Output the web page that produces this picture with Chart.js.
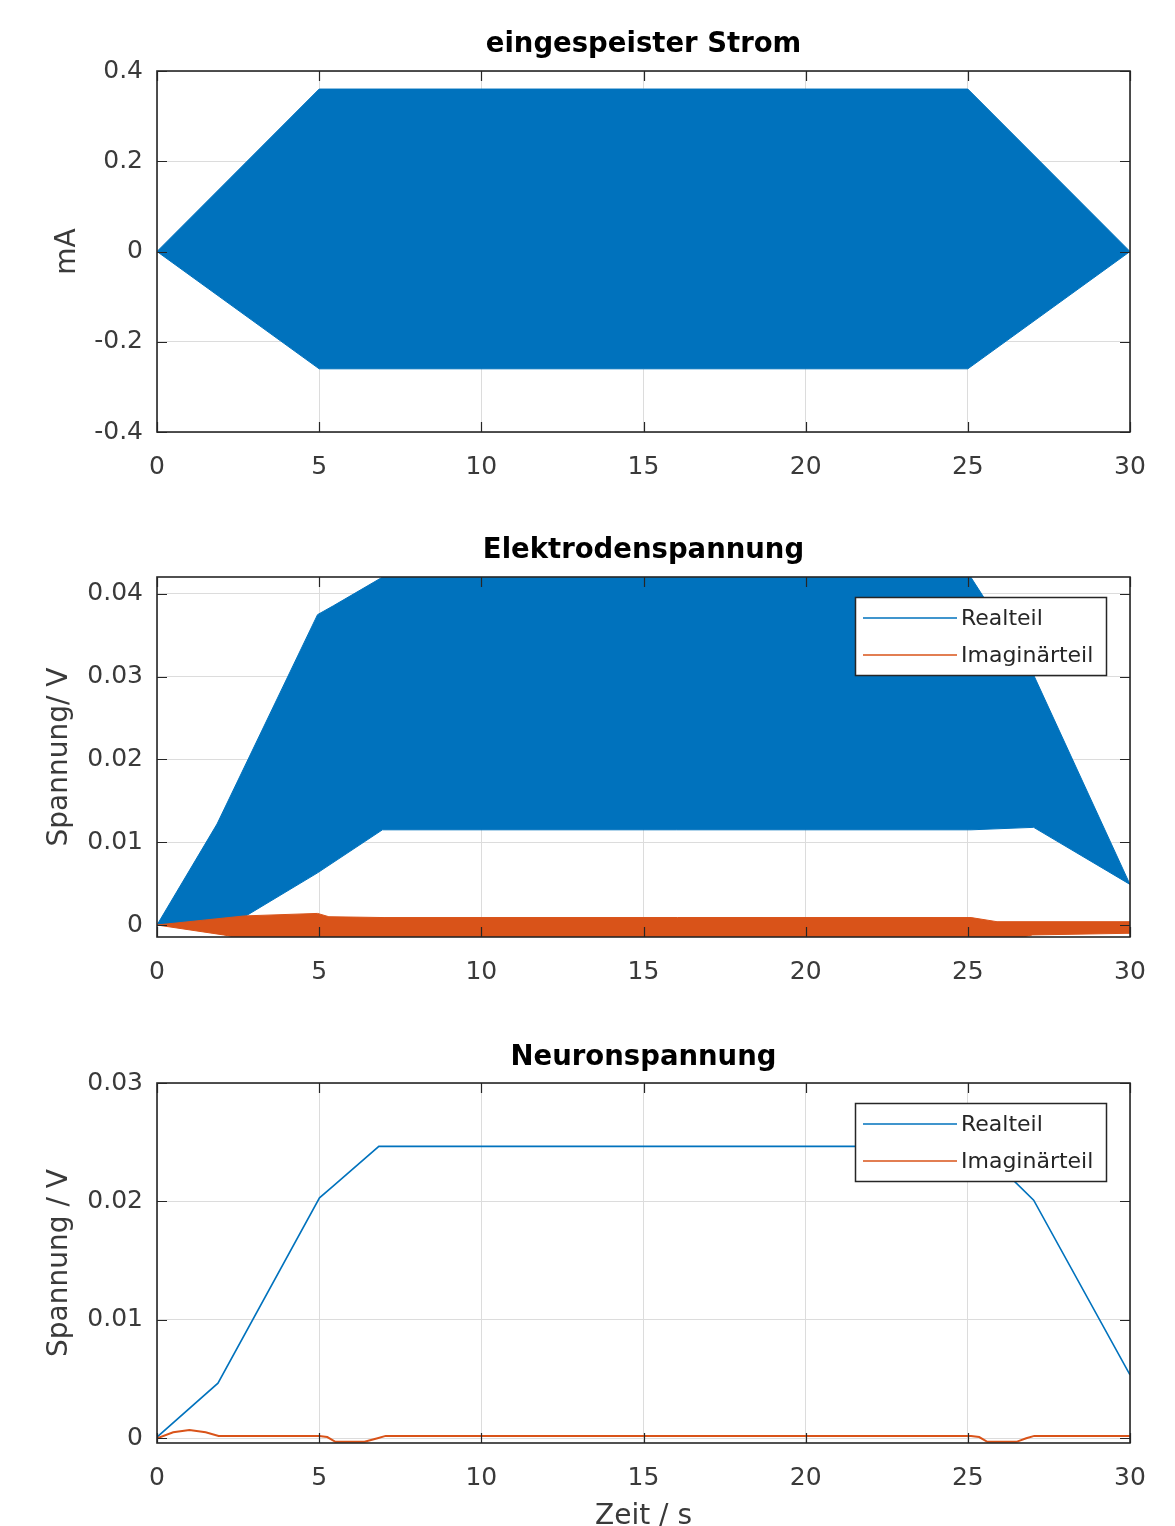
<!DOCTYPE html>
<html><head><meta charset="utf-8">
<script src="https://cdn.jsdelivr.net/npm/chart.js@4.4.1/dist/chart.umd.min.js"></script>
<style>
html,body{margin:0;padding:0;background:#fff;overflow:hidden;width:1175px;height:1526px;}
canvas{position:absolute;left:0;}
</style></head><body>
<canvas id="c1" width="1175" height="500" style="top:0px"></canvas>
<canvas id="c2" width="1175" height="505" style="top:500px"></canvas>
<canvas id="c3" width="1175" height="540" style="top:1005px"></canvas>
<script>
// ---------- shared ----------
const timeTicks = [0, 5, 10, 15, 20, 25, 30];
const timeTickLabels = ['0', '5', '10', '15', '20', '25', '30'];
const seriesNames = ['Realteil', 'Imaginärteil'];
const xAxisTitle = 'Zeit / s';

// ---------- plot 1: eingespeister Strom ----------
const stromTitle = 'eingespeister Strom';
const stromYTitle = 'mA';
const stromYTicks = [-0.4, -0.2, 0, 0.2, 0.4];
const stromYTickLabels = ['-0.4', '-0.2', '0', '0.2', '0.4'];
const stromT = [0, 5, 25, 30];
const stromUpper = [0, 0.36, 0.36, 0];
const stromLower = [0, -0.26, -0.26, 0];

// ---------- plot 2: Elektrodenspannung ----------
const elekTitle = 'Elektrodenspannung';
const elekYTitle = 'Spannung/ V';
const elekYTicks = [0, 0.01, 0.02, 0.03, 0.04];
const elekYTickLabels = ['0', '0.01', '0.02', '0.03', '0.04'];
const elekRealUpperT = [0, 1.85, 4.95, 5.45, 7.2, 25, 27.03, 30];
const elekRealUpperV = [0, 0.0122, 0.0375, 0.0386, 0.0426, 0.0426, 0.0302, 0.0049];
const elekRealLowerT = [0, 2.7, 4.95, 6.95, 25.1, 27.03, 30];
const elekRealLowerV = [0, 0.001, 0.0063, 0.0115, 0.0115, 0.0118, 0.0049];
const elekImagUpperT = [0, 2.7, 4.95, 5.3, 7, 25.1, 25.9, 30];
const elekImagUpperV = [0, 0.0011, 0.0014, 0.0010, 0.0009, 0.0009, 0.0004, 0.0004];
const elekImagLowerT = [0, 2.05, 2.6, 26.5, 27, 30];
const elekImagLowerV = [0, -0.0012, -0.0016, -0.0016, -0.0012, -0.001];

// ---------- plot 3: Neuronspannung ----------
const neuTitle = 'Neuronspannung';
const neuYTitle = 'Spannung / V';
const neuYTicks = [0, 0.01, 0.02, 0.03];
const neuYTickLabels = ['0', '0.01', '0.02', '0.03'];
const neuRealT = [0, 1.88, 5.01, 5.43, 6.84, 25.16, 26.4, 27.03, 30];
const neuRealV = [0.0001, 0.00465, 0.0203, 0.0213, 0.02465, 0.02465, 0.0218, 0.0201, 0.00535];
const neuImagT = [0, 0.5, 1, 1.5, 1.9, 5, 5.25, 5.5, 6.4, 6.8, 7.05, 25.1, 25.35, 25.6, 26.5, 26.8, 27.05, 30];
const neuImagV = [0, 0.0005, 0.0007, 0.0005, 0.0002, 0.0002, 0.0001, -0.0003, -0.0003, 0, 0.0002, 0.0002, 0.0001, -0.0003, -0.0003, 0, 0.0002, 0.0002];

// ---------- styling ----------
const BLUE = '#0072BD';
const ORANGE = '#D95319';
const TXT = '#3a3a3a';
const AXIS = '#262626';
const GRID = '#dcdcdc';
const FONT = 'DejaVu Sans';

const pts = (t, v) => t.map((x, i) => ({x: x, y: v[i]}));

const framePlugin = {
  id: 'frame',
  afterDatasetsDraw(chart) {
    const {ctx, chartArea: a, scales: {x, y}} = chart;
    ctx.save();
    ctx.strokeStyle = AXIS;
    ctx.lineWidth = 1.2;
    const L = 10;
    ctx.beginPath();
    x.ticks.forEach(t => {
      const p = Math.round(x.getPixelForValue(t.value)) + 0.5;
      ctx.moveTo(p, a.bottom); ctx.lineTo(p, a.bottom - L);
      ctx.moveTo(p, a.top); ctx.lineTo(p, a.top + L);
    });
    y.ticks.forEach(t => {
      const p = Math.round(y.getPixelForValue(t.value)) + 0.5;
      ctx.moveTo(a.left, p); ctx.lineTo(a.left + L, p);
      ctx.moveTo(a.right, p); ctx.lineTo(a.right - L, p);
    });
    ctx.stroke();
    ctx.lineWidth = 1.6;
    ctx.strokeRect(a.left, a.top, a.right - a.left, a.bottom - a.top);
    ctx.restore();
  }
};

const boxLegendPlugin = {
  id: 'boxLegend',
  afterDraw(chart, args, opts) {
    if (!opts || !opts.show) return;
    const {ctx, chartArea: a} = chart;
    const items = chart.data.datasets.filter(d => d.inLegend);
    const w = 251, h = 78;
    const x0 = a.right - 24 - w, y0 = a.top + 20;
    ctx.save();
    ctx.fillStyle = '#fff';
    ctx.fillRect(x0, y0, w, h);
    ctx.strokeStyle = AXIS;
    ctx.lineWidth = 1.5;
    ctx.strokeRect(x0 + 0.5, y0 + 0.5, w, h);
    items.forEach((d, i) => {
      const yy = y0 + 21 + i * 37;
      ctx.strokeStyle = d.borderColor;
      ctx.lineWidth = 1.6;
      ctx.beginPath();
      ctx.moveTo(x0 + 8, yy); ctx.lineTo(x0 + 102, yy);
      ctx.stroke();
      ctx.fillStyle = AXIS;
      ctx.font = '22px "' + FONT + '"';
      ctx.textBaseline = 'middle';
      ctx.textAlign = 'left';
      ctx.fillText(d.label, x0 + 106, yy + 1);
    });
    ctx.restore();
  }
};

function makeChart(id, c) {
  return new Chart(document.getElementById(id), {
    type: 'line',
    data: {datasets: c.datasets},
    plugins: [framePlugin, boxLegendPlugin],
    options: {
      responsive: false,
      animation: false,
      devicePixelRatio: 1,
      layout: {padding: {left: 0, right: 45, top: 0, bottom: 0}},
      elements: {point: {radius: 0}, line: {tension: 0}},
      plugins: {
        legend: {display: false},
        tooltip: {enabled: false},
        boxLegend: {show: !!c.legend},
        title: {
          display: true, text: c.title, fullSize: false, color: '#000',
          font: {family: FONT, size: 27.5, weight: 'bold', lineHeight: 1.2},
          padding: {top: c.titlePad[0], bottom: c.titlePad[1]}
        }
      },
      scales: {
        x: {
          type: 'linear', min: 0, max: 30,
          afterBuildTicks: s => { s.ticks = timeTicks.map(v => ({value: v})); },
          afterFit: s => { s.height = c.xHeight; },
          ticks: {
            callback: (v, i) => timeTickLabels[i],
            font: {family: FONT, size: 25}, color: TXT, padding: 20,
            maxRotation: 0, autoSkip: false
          },
          grid: {color: GRID, lineWidth: 1, drawTicks: false},
          border: {display: false},
          title: c.xTitle ? {
            display: true, text: c.xTitle, color: TXT,
            font: {family: FONT, size: 28, lineHeight: 1.2},
            padding: {top: 0, bottom: 11.5}
          } : {display: false}
        },
        y: {
          type: 'linear', min: c.yMin, max: c.yMax,
          afterBuildTicks: s => { s.ticks = c.yTicks.map(v => ({value: v})); },
          afterFit: s => { s.width = 157; },
          ticks: {
            callback: (v, i) => c.yTickLabels[i],
            font: {family: FONT, size: 25}, color: TXT, padding: 14,
            autoSkip: false
          },
          grid: {color: GRID, lineWidth: 1, drawTicks: false},
          border: {display: false},
          title: {
            display: true, text: c.yTitle, color: TXT,
            font: {family: FONT, size: 28, lineHeight: 1.2},
            padding: {top: c.yTitlePad, bottom: 0}
          }
        }
      }
    }
  });
}

makeChart('c1', {
  title: stromTitle, titlePad: [28.5, 9.5],
  yTitle: stromYTitle, yTitlePad: 51,
  yMin: -0.4, yMax: 0.4, yTicks: stromYTicks, yTickLabels: stromYTickLabels,
  xHeight: 68,
  datasets: [
    {label: 'upper', data: pts(stromT, stromUpper), borderColor: BLUE, backgroundColor: BLUE, borderWidth: 1, fill: '+1'},
    {label: 'lower', data: pts(stromT, stromLower), borderColor: BLUE, backgroundColor: BLUE, borderWidth: 1, fill: false}
  ]
});

makeChart('c2', {
  title: elekTitle, titlePad: [34.5, 9.5],
  yTitle: elekYTitle, yTitlePad: 43,
  yMin: -0.00145, yMax: 0.04205, yTicks: elekYTicks, yTickLabels: elekYTickLabels,
  xHeight: 68, legend: true,
  datasets: [
    {label: seriesNames[0], inLegend: true, order: 2, data: pts(elekRealUpperT, elekRealUpperV), borderColor: BLUE, backgroundColor: BLUE, borderWidth: 1, fill: '+1'},
    {label: seriesNames[0] + ' min', order: 2, data: pts(elekRealLowerT, elekRealLowerV), borderColor: BLUE, backgroundColor: BLUE, borderWidth: 1, fill: false},
    {label: seriesNames[1], inLegend: true, order: 1, data: pts(elekImagUpperT, elekImagUpperV), borderColor: ORANGE, backgroundColor: ORANGE, borderWidth: 1, fill: '+1'},
    {label: seriesNames[1] + ' min', order: 1, data: pts(elekImagLowerT, elekImagLowerV), borderColor: ORANGE, backgroundColor: ORANGE, borderWidth: 1, fill: false}
  ]
});

makeChart('c3', {
  title: neuTitle, titlePad: [36.5, 8.5],
  yTitle: neuYTitle, yTitlePad: 43,
  yMin: -0.0004, yMax: 0.03, yTicks: neuYTicks, yTickLabels: neuYTickLabels,
  xHeight: 102, xTitle: xAxisTitle, legend: true,
  datasets: [
    {label: seriesNames[0], inLegend: true, order: 2, data: pts(neuRealT, neuRealV), borderColor: BLUE, borderWidth: 1.6, fill: false},
    {label: seriesNames[1], inLegend: true, order: 1, data: pts(neuImagT, neuImagV), borderColor: ORANGE, borderWidth: 2, fill: false}
  ]
});
</script>
</body></html>
